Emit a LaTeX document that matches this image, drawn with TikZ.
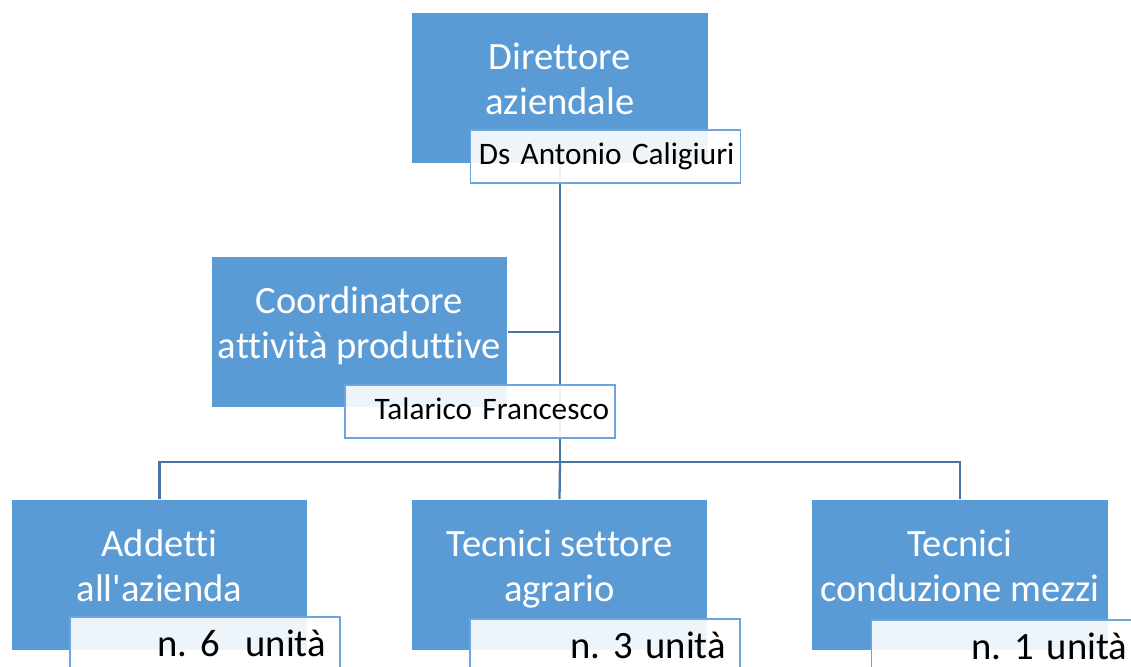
\documentclass[tikz,border=0pt]{standalone}
\usepackage{fontspec}
\setmainfont{Carlito}[Ligatures={TeX,NoCommon}]
\usetikzlibrary{positioning}
\frenchspacing

\definecolor{boxblue}{RGB}{91,155,213}
\definecolor{rimblue}{RGB}{110,165,222}
\definecolor{lineblue}{RGB}{70,117,172}

\newcommand{\roletext}[2]{\begin{tabular}{@{}c@{}}#1\\#2\\[0.2cm]\end{tabular}}

\begin{document}
\begin{tikzpicture}[x=0.02cm,y=-0.02cm,
	role/.style={fill=boxblue, text=white, inner sep=0pt,
		minimum width=5.92cm, minimum height=3.02cm,
		font=\fontsize{22pt}{25.6pt}\selectfont},
	who/.style={draw=rimblue, line width=1pt, fill=white, fill opacity=0.9, text opacity=1,
		text width=5.16cm, align=right, inner xsep=0.12cm, inner ysep=0pt,
		minimum height=1.06cm, text height=12pt, text depth=3.4pt, anchor=north west,
		font=\fontsize{17.8pt}{21pt}\selectfont},
	count/.style={who, text width=4.84cm, inner xsep=0.28cm,
		text height=18pt, text depth=3pt, font=\fontsize{22pt}{25.6pt}\selectfont},
	link/.style={draw=lineblue, line width=1.3pt}]
	\path[use as bounding box, clip] (0,0) rectangle (1131,666);
	
	\node[role] (dir) at (560,88) {\roletext{Direttore}{aziendale}};
	\node[role] (coord) at (359.5,332) {\roletext{Coordinatore}{attività produttive}};
	\node[role] (addetti) at (159.5,575) {\roletext{Addetti}{all\textquotesingle azienda}};
	\node[role] (agrario) at (559.5,575) {\roletext{Tecnici settore}{agrario}};
	\node[role] (mezzi) at (960,575) {\roletext{Tecnici}{conduzione mezzi}};
	
	\coordinate (bus) at (560,462);
	\draw[link] (dir.south) -- (bus);
	\draw[link] (coord.east) -- (coord.east -| dir.south);
	\draw[link] (addetti.north) |- (bus) -| (mezzi.north);
	\draw[link] (bus) -- (agrario.north);
	
	\node[who] (dirname) at ([shift={(58,117)}]dir.north west) {Ds Antonio Caligiuri};
	\node[who] (coordname) at ([shift={(133,128)}]coord.north west) {Talarico Francesco};
	\node[count] (addettin) at ([shift={(58,117)}]addetti.north west) {n. 6~~unità};
	\node[count] (agrarion) at ([shift={(58,119)}]agrario.north west) {n. 3 unità};
	\node[count] (mezzin) at ([shift={(59,120)}]mezzi.north west) {n. 1 unità};
\end{tikzpicture}
\end{document}
